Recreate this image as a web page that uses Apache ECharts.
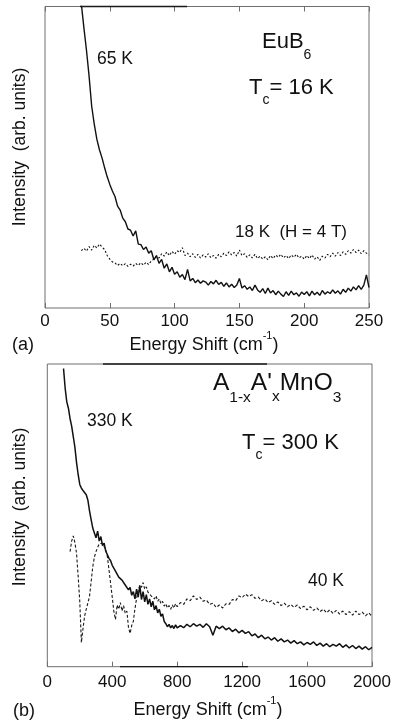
<!DOCTYPE html>
<html>
<head>
<meta charset="utf-8">
<script src="https://cdn.jsdelivr.net/npm/echarts@6/dist/echarts.min.js"></script>
<style>
  html, body { margin: 0; padding: 0; background: #fff; }
  #chart { width: 394px; height: 723px; }
</style>
</head>
<body>
<div id="chart"></div>
<script>
// ---- Panel (a): EuB6, energy shift in cm^-1 ----
const xTicksA = [0, 50, 100, 150, 200, 250];
const shiftA = [
  28, 30, 32, 34, 36, 38, 40, 42, 44, 46,
  48, 50, 52, 54, 56, 58, 60, 62, 64, 66,
  68, 70, 72, 74, 76, 78, 80, 82, 84, 86,
  88, 90, 92, 94, 96, 98, 100, 102, 104, 106,
  108, 110, 112, 114, 116, 118, 120, 122, 124, 126,
  128, 130, 132, 134, 136, 138, 140, 142, 144, 146,
  148, 150, 152, 154, 156, 158, 160, 162, 164, 166,
  168, 170, 172, 174, 176, 178, 180, 182, 184, 186,
  188, 190, 192, 194, 196, 198, 200, 202, 204, 206,
  208, 210, 212, 214, 216, 218, 220, 222, 224, 226,
  228, 230, 232, 234, 236, 238, 240, 242, 244, 246,
  248, 250
];
const int65K = [
  101, 93, 85.5, 77, 67, 61, 56, 52.5, 49.8, 46.5,
  43.5, 41, 38.8, 37.0, 33.8, 32.5, 29.8, 28.6, 26.2, 25.8,
  23.9, 25.6, 21.2, 21.0, 19.4, 20.2, 18.2, 19.0, 16.0, 17.4,
  14.8, 16.1, 13.2, 14.6, 12.0, 13.5, 11.2, 12.0, 10.2, 11.1,
  9.4, 12.8, 9.0, 9.8, 8.4, 9.3, 8.2, 9.0, 8.6, 7.6,
  8.8, 8.0, 9.2, 7.8, 8.5, 7.2, 8.3, 7.0, 7.9, 6.8,
  7.6, 9.8, 6.6, 7.4, 6.2, 7.0, 5.8, 7.6, 6.0, 5.2,
  6.4, 4.8, 6.6, 5.0, 5.8, 4.4, 5.6, 4.6, 3.8, 5.4,
  4.2, 5.6, 4.4, 5.0, 3.9, 5.3, 4.5, 5.4, 4.0, 5.6,
  4.4, 5.2, 4.2, 5.8, 4.6, 5.4, 4.8, 6.0, 4.9, 5.7,
  4.6, 6.2, 5.2, 6.6, 5.6, 7.0, 6.0, 7.4, 6.2, 7.6,
  11.0, 6.8
];
const int18K = [
  19.0, 19.8, 18.9, 20.4, 19.2, 20.8, 19.9, 21.2, 20.2, 19.4,
  17.4, 16.2, 15.3, 15.0, 14.1, 14.8, 14.0, 14.7, 13.8, 14.5,
  13.9, 14.8, 14.1, 15.0, 14.2, 15.2, 14.4, 15.6, 16.2, 17.2,
  16.6, 18.0, 17.2, 18.6, 17.4, 18.8, 17.8, 19.0, 18.4, 20.0,
  17.4, 18.2, 17.0, 18.0, 16.8, 17.8, 16.6, 17.6, 16.9, 18.0,
  16.7, 17.4, 16.5, 17.8, 17.0, 18.2, 17.4, 18.6, 17.6, 18.4,
  17.2, 19.2, 17.4, 18.0, 16.8, 17.6, 16.6, 17.8, 16.4, 17.2,
  16.2, 17.0, 16.0, 17.4, 16.4, 17.6, 16.8, 17.8, 16.6, 17.4,
  16.4, 17.6, 16.8, 17.8, 16.6, 17.2, 16.2, 17.4, 16.4, 17.6,
  16.2, 17.0, 15.8, 17.2, 16.6, 17.8, 17.0, 18.2, 17.2, 18.4,
  17.4, 18.6, 17.8, 19.0, 18.2, 19.4, 18.4, 19.2, 18.0, 19.0,
  18.2, 17.6
];

// ---- Panel (b): A1-xA'xMnO3 ----
const xTicksB = [0, 400, 800, 1200, 1600, 2000];
const shiftB = [
  100, 110, 120, 130, 140, 150, 160, 170, 180, 190,
  200, 210, 220, 230, 240, 250, 260, 270, 280, 290,
  300, 310, 320, 330, 340, 350, 360, 370, 380, 390,
  400, 410, 420, 430, 440, 450, 460, 470, 480, 490,
  500, 510, 520, 530, 540, 550, 560, 570, 580, 590,
  600, 610, 620, 630, 640, 650, 660, 670, 680, 690,
  700, 710, 720, 730, 740, 750, 760, 770, 780, 790,
  800, 820, 840, 860, 880, 900, 920, 940, 960, 980,
  1000, 1020, 1040, 1060, 1080, 1100, 1120, 1140, 1160, 1180,
  1200, 1220, 1240, 1260, 1280, 1300, 1320, 1340, 1360, 1380,
  1400, 1420, 1440, 1460, 1480, 1500, 1520, 1540, 1560, 1580,
  1600, 1620, 1640, 1660, 1680, 1700, 1720, 1740, 1760, 1780,
  1800, 1820, 1840, 1860, 1880, 1900, 1920, 1940, 1960, 1980,
  2000
];
const int330K = [
  98.5, 92, 87.5, 85.4, 82.0, 79.5, 76.0, 72.5, 67.5, 63.5,
  60.2, 59.0, 58.2, 57.6, 56.8, 55.0, 51.5, 48.6, 45.8, 44.2,
  42.6, 44.8, 41.5, 43.0, 40.0, 40.8, 38.2, 37.6, 35.8, 35.0,
  33.5, 33.2, 31.6, 31.0, 29.6, 30.2, 28.6, 28.0, 27.0, 27.6,
  25.4, 26.2, 23.6, 24.8, 22.4, 25.6, 23.0, 26.8, 22.2, 24.8,
  21.4, 23.8, 20.6, 22.4, 19.8, 21.6, 18.8, 20.2, 17.8, 19.0,
  16.6, 17.4, 15.0, 14.2, 13.2, 14.0, 12.8, 13.6, 12.6, 13.8,
  12.8, 13.6, 12.9, 14.0, 13.2, 14.2, 13.4, 14.0, 13.0, 14.2,
  13.2, 10.4, 13.4, 12.6, 13.4, 12.2, 12.8, 11.6, 12.4, 11.2,
  12.0, 11.0, 11.6, 10.2, 10.8, 9.6, 10.4, 9.2, 9.8, 8.8,
  9.6, 8.4, 9.2, 8.2, 8.8, 7.8, 8.6, 7.6, 8.2, 7.2,
  8.0, 7.4, 8.2, 7.0, 7.8, 6.8, 7.6, 6.6, 7.4, 6.8,
  7.6, 6.4, 7.2, 6.2, 7.0, 6.0, 6.8, 5.8, 6.6, 5.6,
  6.4
];
const int40K = [
  null, null, null, null, 38.0, 41.5, 43.2, 41.0, 37.5, 30.0,
  21.5, 8.0, 12.6, 16.8, 19.0, 19.4, 23.2, 28.0, 33.0, 36.2,
  38.0, 39.4, 40.6, 41.2, 40.8, 40.2, 38.6, 36.4, 32.0, 27.5,
  23.0, 18.2, 15.6, 20.4, 19.0, 21.2, 18.4, 20.2, 17.6, 18.4,
  13.0, 11.0, 13.6, 15.0, 19.2, 22.6, 25.0, 27.0, 26.2, 27.8,
  25.6, 26.4, 24.6, 25.2, 23.4, 24.0, 22.4, 23.4, 21.6, 22.4,
  20.8, 21.6, 20.0, 20.8, 19.4, 20.2, 19.0, 20.4, 19.4, 20.8,
  19.8, 21.2, 20.6, 22.4, 21.8, 23.4, 22.2, 23.0, 21.6, 22.0,
  20.6, 21.0, 19.6, 20.4, 19.4, 20.8, 20.6, 22.2, 21.8, 23.4,
  22.8, 24.0, 23.2, 23.8, 22.6, 23.0, 21.8, 22.4, 21.2, 21.8,
  20.6, 21.4, 20.2, 21.0, 19.8, 20.6, 19.6, 20.4, 19.2, 20.0,
  18.8, 19.8, 18.6, 19.4, 18.2, 19.0, 17.8, 18.8, 17.6, 18.6,
  17.4, 18.4, 17.2, 18.2, 17.0, 18.4, 17.2, 18.0, 16.8, 17.8,
  16.6
];

const FONT = '"Liberation Sans", Arial, Helvetica, sans-serif';
const INK = '#111';
const FRAME = '#6f6f6f';

function pairs(xs, ys) {
  return xs.map((x, i) => [x, ys[i]]).filter(p => p[1] !== null);
}

function xAxisFor(gridIndex, ticks, position, showLabels, margin) {
  return {
    gridIndex: gridIndex,
    type: 'value',
    position: position,
    min: ticks[0],
    max: ticks[ticks.length - 1],
    interval: ticks[1] - ticks[0],
    axisLine: { show: false },
    axisTick: { show: true, inside: true, length: 5, lineStyle: { color: FRAME, width: 1 } },
    axisLabel: {
      show: showLabels, color: INK, fontSize: 17, fontFamily: FONT, margin: margin,
      formatter: v => String(v)
    },
    splitLine: { show: false }
  };
}

// Text helpers: plain labels and labels built from pieces with sub/superscripts.
const measureCtx = document.createElement('canvas').getContext('2d');
function textWidth(str, size) {
  measureCtx.font = size + 'px ' + FONT;
  return measureCtx.measureText(str).width;
}

function label(x, y, text, size) {
  return {
    type: 'text', x: x, y: y,
    style: { text: text, fill: INK, font: size + 'px ' + FONT, align: 'left', verticalAlign: 'middle' }
  };
}

// parts: [text, fontSize, verticalOffset]; anchor 'left' or 'center'
function pieces(x, y, parts, anchor) {
  const widths = parts.map(p => textWidth(p[0], p[1]));
  const total = widths.reduce((a, b) => a + b, 0);
  let cx = anchor === 'center' ? x - total / 2 : x;
  return parts.map((p, i) => {
    const el = label(cx, y + p[2], p[0], p[1]);
    cx += widths[i];
    return el;
  });
}

function verticalLabel(x, y, text, size) {
  return {
    type: 'text', x: x, y: y, rotation: Math.PI / 2,
    style: { text: text, fill: INK, font: size + 'px ' + FONT, align: 'center', verticalAlign: 'middle' }
  };
}

function frameLine(x1, y1, x2, y2, w) {
  return { type: 'line', shape: { x1: x1, y1: y1, x2: x2, y2: y2 }, style: { stroke: '#1a1a1a', lineWidth: w }, z: 5 };
}

const chart = echarts.init(document.getElementById('chart'), null, { renderer: 'canvas' });

chart.setOption({
  animation: false,
  backgroundColor: '#fff',
  grid: [
    { left: 45, top: 6.5, width: 324, height: 301.5, show: true, borderColor: FRAME, borderWidth: 1, backgroundColor: 'transparent' },
    { left: 47.3, top: 364, width: 324.7, height: 302.7, show: true, borderColor: FRAME, borderWidth: 1, backgroundColor: 'transparent' }
  ],
  xAxis: [
    xAxisFor(0, xTicksA, 'bottom', true, 5),
    xAxisFor(0, xTicksA, 'top', false, 5),
    xAxisFor(1, xTicksB, 'bottom', true, 7)
  ],
  yAxis: [
    { gridIndex: 0, type: 'value', min: 0, max: 100, show: false },
    { gridIndex: 1, type: 'value', min: 0, max: 100, show: false }
  ],
  series: [
    {
      name: '65 K', type: 'line', xAxisIndex: 0, yAxisIndex: 0,
      data: pairs(shiftA, int65K), showSymbol: false, clip: true,
      lineStyle: { color: INK, width: 1.4 }
    },
    {
      name: '18 K (H = 4 T)', type: 'line', xAxisIndex: 0, yAxisIndex: 0,
      data: pairs(shiftA, int18K), showSymbol: false, clip: true,
      lineStyle: { color: '#111', width: 1.1, type: [2, 2] }
    },
    {
      name: '330 K', type: 'line', xAxisIndex: 2, yAxisIndex: 1,
      data: pairs(shiftB, int330K), showSymbol: false, clip: true,
      lineStyle: { color: INK, width: 1.5 }
    },
    {
      name: '40 K', type: 'line', xAxisIndex: 2, yAxisIndex: 1,
      data: pairs(shiftB, int40K), showSymbol: false, clip: true,
      lineStyle: { color: '#1a1a1a', width: 1.1, type: [3, 2] }
    }
  ],
  graphic: [
    // darker stretches of the printed frame
    frameLine(80, 6.5, 187, 6.5, 1.6),
    frameLine(103, 364, 267, 364, 1.4),
    frameLine(120, 666.7, 248, 666.7, 1.3),

    // panel (a) annotations
    label(97, 59, '65 K', 17.5),
    ...pieces(262, 42, [['EuB', 22, 0], ['6', 14, 13.5]]),
    ...pieces(249, 87.5, [['T', 22, 0], ['c', 14, 12.3], ['= 16 K', 22, 0]]),
    label(235, 232, '18 K  (H = 4 T)', 17),
    label(12, 345, '(a)', 18),
    ...pieces(204, 345, [['Energy Shift (cm', 18, 0], ['-1', 11, -9.5], [')', 18, 0]], 'center'),
    verticalLabel(20, 147, 'Intensity  (arb. units)', 17.5),

    // panel (b) annotations
    label(87, 421, '330 K', 17.5),
    ...pieces(213, 383, [['A', 24.5, 0], ['1-x', 15.5, 14.5], ['A\'', 24.5, 0], ['x', 15.5, 13.5], ['MnO', 24.5, 0], ['3', 15.5, 14.5]]),
    ...pieces(242, 442.5, [['T', 22, 0], ['c', 14, 13], ['= 300 K', 22, 0]]),
    label(308, 581, '40 K', 17.5),
    label(13, 711, '(b)', 18),
    ...pieces(208, 710, [['Energy Shift (cm', 18, 0], ['-1', 11, -9.5], [')', 18, 0]], 'center'),
    verticalLabel(20, 507, 'Intensity  (arb. units)', 17.5)
  ]
});
</script>
</body>
</html>
